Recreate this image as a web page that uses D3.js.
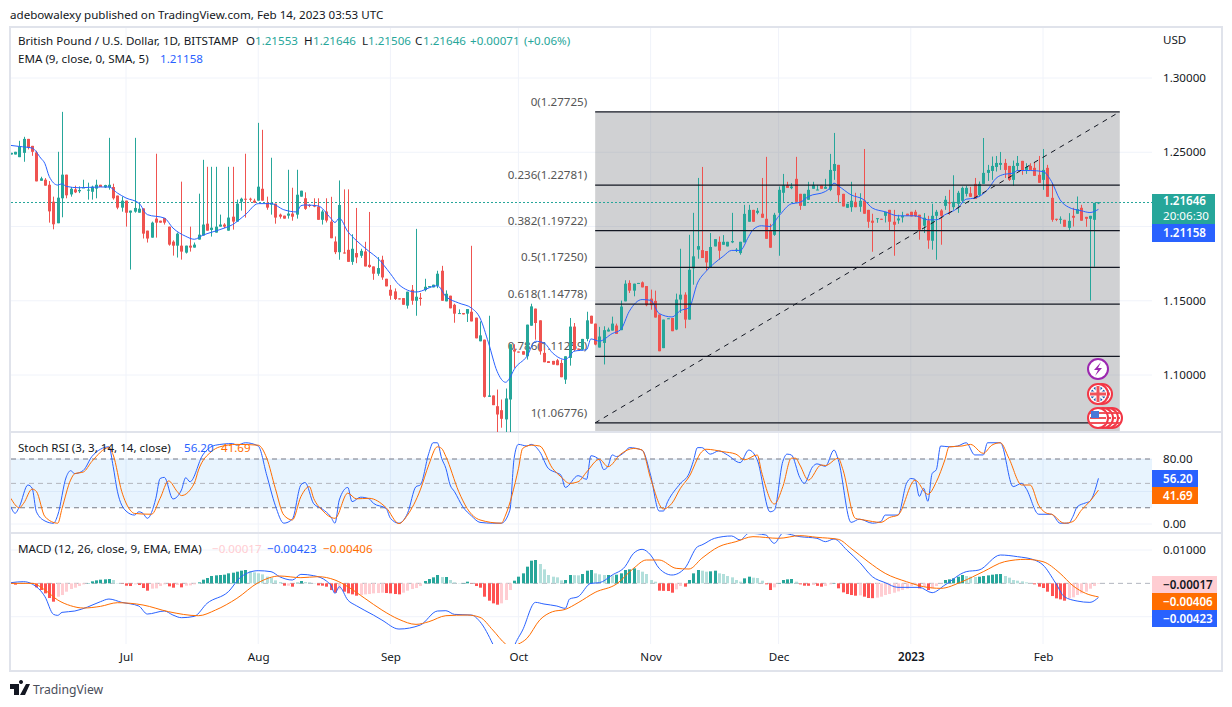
<!DOCTYPE html>
<html>
<head>
<meta charset="utf-8">
<script src="https://cdn.jsdelivr.net/npm/d3@7"></script>
<style>
  html, body { margin: 0; padding: 0; background: #fff; }
  text { font-family: "Noto Sans", sans-serif; }
</style>
</head>
<body>
<div id="chart"></div>
<script>
// bar 1 is 2022-06-04, one candle per calendar day
var firstDay = new Date(Date.UTC(2022, 5, 4));

var opens = [
  1.2485,1.2485,1.2467,1.2496,1.2590,1.2543,1.2499,1.2308,1.2315,1.2281,
  1.2167,1.2022,1.2190,1.2349,1.2216,1.2250,1.2237,1.2259,1.2243,1.2234,
  1.2255,1.2281,1.2263,1.2263,1.2266,1.2208,1.2127,1.2174,1.2093,1.2100,
  1.2093,1.2122,1.1972,1.1925,1.2053,1.2039,1.2057,1.1999,1.1898,1.1871,
  1.1871,1.1824,1.1871,1.1858,1.1912,1.1939,1.2019,1.1977,1.1959,1.1999,
  1.2013,1.1972,1.2066,1.2033,1.2167,1.2187,1.2187,1.2174,1.2174,1.2254,
  1.2160,1.2147,1.2154,1.2080,1.2073,1.2073,1.2087,1.2080,1.2201,1.2190,
  1.2145,1.2145,1.2134,1.2045,1.2101,1.2033,1.1899,1.1827,1.1825,1.1843,
  1.1762,1.1821,1.1803,1.1832,1.1742,1.1731,1.1682,1.1776,1.1648,1.1574,
  1.1563,1.1516,1.1518,1.1467,1.1574,1.1500,1.1520,1.1572,1.1590,1.1590,
  1.1601,1.1702,1.1496,1.1534,1.1473,1.1413,1.1417,1.1413,1.1426,1.1386,
  1.1227,1.1238,1.0853,1.0862,1.0790,1.0763,1.0701,1.0835,1.1171,1.1158,
  1.1160,1.1126,1.1332,1.1447,1.1368,1.1149,1.1093,1.1095,1.1099,1.1081,
  1.0969,1.1115,1.1326,1.1178,1.1171,1.1243,1.1399,1.1346,1.1185,1.1216,
  1.1293,1.1299,1.1333,1.1302,1.1496,1.1620,1.1568,1.1617,1.1624,1.1599,
  1.1514,1.1499,1.1407,1.1181,1.1378,1.1384,1.1306,1.1508,1.1541,1.1373,
  1.1718,1.1844,1.1841,1.1835,1.1727,1.1866,1.1897,1.1877,1.1866,1.1893,
  1.1835,1.1821,1.1893,1.2032,1.2112,1.2092,1.2086,1.2052,1.1971,1.1944,
  1.2092,1.2227,1.2278,1.2258,1.2321,1.2220,1.2139,1.2180,1.2254,1.2245,
  1.2280,1.2254,1.2247,1.2374,1.2415,1.2220,1.2126,1.2130,1.2166,1.2133,
  1.2175,1.2112,1.2039,1.2052,1.2052,1.2072,1.2112,1.2032,1.2041,1.2061,
  1.2086,1.2099,1.2099,1.2079,1.2005,1.2041,1.1904,1.2072,1.2108,1.2139,
  1.2162,1.2130,1.2153,1.2173,1.2220,1.2224,1.2287,1.2211,1.2287,1.2361,
  1.2374,1.2401,1.2415,1.2428,1.2408,1.2314,1.2408,1.2442,1.2381,1.2408,
  1.2395,1.2348,1.2314,1.2395,1.2193,1.2052,1.2045,1.2045,1.1991,1.2072,
  1.2086,1.2126,1.2065,1.2052,1.2045,1.21553
];
var highs = [
  1.2496,1.2503,1.2577,1.2604,1.2590,1.2543,1.2510,1.2335,1.2326,1.2306,
  1.2201,1.2503,1.2772,1.2349,1.2266,1.2275,1.2270,1.2315,1.2295,1.2275,
  1.2315,1.2281,1.2281,1.2597,1.2288,1.2208,1.2201,1.2174,1.2107,1.2597,
  1.2160,1.2122,1.1972,1.2033,1.2490,1.2039,1.2057,1.1999,1.1907,1.1959,
  1.2302,1.1871,1.1999,1.1892,1.2221,1.2449,1.2402,1.2402,1.2402,1.2080,
  1.2022,1.2402,1.2402,1.2181,1.2194,1.2490,1.2194,1.2187,1.2698,1.2651,
  1.2201,1.2463,1.2154,1.2087,1.2073,1.2382,1.2261,1.2382,1.2241,1.2230,
  1.2150,1.2190,1.2190,1.2112,1.2190,1.2200,1.1933,1.2310,1.2250,1.2250,
  1.1948,1.2125,1.1850,1.1897,1.2098,1.1731,1.1794,1.1803,1.1648,1.1606,
  1.1583,1.1516,1.1518,1.1561,1.1606,1.1984,1.1552,1.1648,1.1599,1.1608,
  1.1702,1.1735,1.1570,1.1534,1.1480,1.1442,1.1417,1.1444,1.1870,1.1386,
  1.1361,1.1238,1.1399,1.0862,1.0902,1.0835,1.0909,1.1207,1.1207,1.1158,
  1.1160,1.1339,1.1480,1.1447,1.1368,1.1182,1.1093,1.1095,1.1108,1.1104,
  1.1126,1.1384,1.1350,1.1178,1.1243,1.1426,1.1399,1.1346,1.1324,1.1328,
  1.1319,1.1393,1.1346,1.1501,1.1638,1.1638,1.1615,1.1620,1.1630,1.1599,
  1.1575,1.1568,1.1407,1.1373,1.1382,1.1384,1.1548,1.1850,1.1557,1.1944,
  1.2092,1.2327,1.2401,1.1835,1.1956,1.1915,1.1933,1.1942,1.1897,1.2092,
  1.1855,1.1897,1.2146,1.2146,1.2112,1.2125,1.2327,1.2469,1.2018,1.2092,
  1.2270,1.2354,1.2301,1.2292,1.2469,1.2220,1.2220,1.2301,1.2301,1.2280,
  1.2280,1.2321,1.2489,1.2630,1.2415,1.2220,1.2153,1.2301,1.2227,1.2224,
  1.2522,1.2112,1.2086,1.2056,1.2052,1.2099,1.2112,1.2112,1.2079,1.2099,
  1.2086,1.2099,1.2112,1.2079,1.2090,1.2072,1.2153,1.2112,1.2117,1.2206,
  1.2247,1.2345,1.2240,1.2269,1.2274,1.2267,1.2327,1.2303,1.2596,1.2415,
  1.2471,1.2475,1.2502,1.2455,1.2408,1.2444,1.2475,1.2442,1.2426,1.2426,
  1.2435,1.2475,1.2522,1.2415,1.2287,1.2052,1.2068,1.2045,1.2090,1.2126,
  1.2202,1.2146,1.2065,1.2072,1.2159,1.21646
];
var lows = [
  1.2485,1.2485,1.2467,1.2436,1.2519,1.2476,1.2304,1.2308,1.2275,1.2026,
  1.1981,1.2022,1.2062,1.2190,1.2201,1.2225,1.2225,1.2259,1.2181,1.2181,
  1.2190,1.2266,1.2259,1.2248,1.2181,1.2116,1.2100,1.1999,1.1710,1.2093,
  1.2093,1.1919,1.1892,1.1925,1.1925,1.2026,1.2013,1.1871,1.1804,1.1791,
  1.1777,1.1818,1.1831,1.1858,1.1912,1.1939,1.1972,1.1932,1.1959,1.1999,
  1.1990,1.1972,1.1979,1.2033,1.2107,1.2060,1.2167,1.2160,1.2174,1.2174,
  1.2113,1.2080,1.2019,1.2053,1.2053,1.2053,1.2039,1.2053,1.2201,1.2112,
  1.2130,1.2130,1.2045,1.2013,1.2027,1.1921,1.1814,1.1776,1.1818,1.1762,
  1.1742,1.1753,1.1789,1.1731,1.1722,1.1641,1.1668,1.1641,1.1597,1.1507,
  1.1505,1.1509,1.1473,1.1447,1.1473,1.1399,1.1467,1.1563,1.1590,1.1590,
  1.1585,1.1500,1.1496,1.1449,1.1352,1.1413,1.1408,1.1357,1.1361,1.1247,
  1.1227,1.0848,1.0853,1.0797,1.0600,1.0645,1.0500,1.0500,1.1048,1.1151,
  1.1137,1.1104,1.1332,1.1238,1.1137,1.1086,1.1081,1.1070,1.1066,1.0985,
  1.0940,1.1063,1.1160,1.1171,1.1166,1.1227,1.1346,1.1200,1.1185,1.1071,
  1.1293,1.1299,1.1277,1.1302,1.1496,1.1552,1.1530,1.1617,1.1590,1.1463,
  1.1440,1.1387,1.1160,1.1181,1.1378,1.1295,1.1302,1.1418,1.1315,1.1373,
  1.1608,1.1783,1.1788,1.1705,1.1727,1.1866,1.1776,1.1877,1.1866,1.1888,
  1.1828,1.1810,1.1893,1.2032,1.2032,1.2082,1.2059,1.1917,1.1857,1.1937,
  1.1803,1.2166,1.2260,1.2251,1.2166,1.2112,1.2139,1.2180,1.2254,1.2245,
  1.2254,1.2254,1.2238,1.2314,1.2162,1.2135,1.2126,1.2099,1.2130,1.2099,
  1.2086,1.1991,1.1830,1.2025,1.2045,1.2027,1.1971,1.1803,1.2018,1.2027,
  1.2072,1.2068,1.2064,1.1911,1.1956,1.1850,1.1844,1.1776,1.1877,1.2112,
  1.2079,1.2112,1.2092,1.2162,1.2202,1.2200,1.2186,1.2202,1.2287,1.2307,
  1.2314,1.2370,1.2381,1.2327,1.2307,1.2274,1.2377,1.2348,1.2354,1.2381,
  1.2341,1.2294,1.2247,1.2200,1.2032,1.2036,1.2018,1.1998,1.1971,1.2000,
  1.2086,1.2039,1.1998,1.1501,1.1729,1.21506
];
var closes = [
  1.2496,1.2503,1.2539,1.2590,1.2530,1.2503,1.2304,1.2324,1.2275,1.2102,
  1.2015,1.2194,1.2349,1.2210,1.2254,1.2230,1.2246,1.2263,1.2248,1.2268,
  1.2281,1.2266,1.2279,1.2281,1.2190,1.2127,1.2174,1.2093,1.2107,1.2125,
  1.2120,1.1952,1.1919,1.2026,1.2026,1.2026,1.2026,1.1878,1.1871,1.1952,
  1.1831,1.1871,1.1858,1.1878,1.1945,1.2013,1.1972,1.1992,1.1999,1.2013,
  1.1999,1.2060,1.2033,1.2154,1.2187,1.2181,1.2181,1.2160,1.2268,1.2174,
  1.2127,1.2160,1.2060,1.2066,1.2053,1.2087,1.2066,1.2214,1.2241,1.2119,
  1.2139,1.2134,1.2045,1.2101,1.2040,1.1921,1.1827,1.2145,1.1818,1.1762,
  1.1850,1.1792,1.1836,1.1731,1.1727,1.1682,1.1720,1.1657,1.1597,1.1534,
  1.1512,1.1509,1.1473,1.1561,1.1500,1.1527,1.1512,1.1594,1.1599,1.1608,
  1.1682,1.1500,1.1547,1.1449,1.1413,1.1417,1.1408,1.1444,1.1361,1.1247,
  1.1267,1.0853,1.0862,1.0797,1.0734,1.0705,1.0842,1.1207,1.1158,1.1151,
  1.1137,1.1339,1.1462,1.1350,1.1160,1.1086,1.1081,1.1070,1.1066,1.0985,
  1.1126,1.1326,1.1171,1.1171,1.1243,1.1368,1.1346,1.1205,1.1259,1.1302,
  1.1306,1.1346,1.1277,1.1461,1.1615,1.1568,1.1615,1.1620,1.1590,1.1470,
  1.1470,1.1387,1.1160,1.1373,1.1382,1.1295,1.1508,1.1541,1.1373,1.1709,
  1.1799,1.1868,1.1788,1.1758,1.1862,1.1915,1.1837,1.1897,1.1897,1.1902,
  1.1844,1.1897,1.2085,1.2112,1.2032,1.2106,1.2059,1.1917,1.1857,1.2079,
  1.2247,1.2278,1.2260,1.2269,1.2166,1.2139,1.2220,1.2247,1.2280,1.2249,
  1.2254,1.2267,1.2381,1.2421,1.2211,1.2135,1.2153,1.2173,1.2130,1.2173,
  1.2086,1.2032,1.2025,1.2056,1.2045,1.2099,1.2032,1.2012,1.2054,1.2072,
  1.2072,1.2068,1.2068,1.1978,1.2059,1.1906,1.2072,1.2099,1.2072,1.2180,
  1.2155,1.2166,1.2227,1.2260,1.2260,1.2200,1.2186,1.2287,1.2361,1.2381,
  1.2408,1.2428,1.2428,1.2381,1.2314,1.2408,1.2428,1.2374,1.2401,1.2381,
  1.2341,1.2294,1.2381,1.2200,1.2045,1.2045,1.2052,1.1998,1.2038,1.2059,
  1.2117,1.2039,1.2052,1.2072,1.2159,1.21646
];

// [bar number, value]
var emaLine = [[1,1.2546],[3,1.2539],[6,1.2528],[8,1.2461],[9,1.2423],[10,1.2337],[12,1.2279],[13,1.2288],[14,1.2270],
  [17,1.2261],[22,1.2266],[24,1.2266],[26,1.2225],[28,1.2192],[31,1.2158],[33,1.2080],[37,1.2057],[39,1.1990],[42,1.1934],
  [44,1.1914],[46,1.1941],[50,1.1979],[53,1.2013],[56,1.2080],[59,1.2154],[62,1.2154],[65,1.2113],[68,1.2098],[69,1.2140],
  [70,1.2145],[73,1.2139],[76,1.2056],[77,1.2027],[78,1.2056],[80,1.1966],[82,1.1906],[85,1.1832],[87,1.1787],[90,1.1682],
  [92,1.1608],[96,1.1559],[101,1.1601],[103,1.1529],[106,1.1485],[109,1.1451],[111,1.1384],[113,1.1216],[115,1.1025],
  [117,1.0951],[118,1.0981],[119,1.1037],[122,1.1126],[124,1.1227],[126,1.1216],[128,1.1149],[131,1.1104],[132,1.1126],
  [133,1.1160],[136,1.1171],[137,1.1243],[139,1.1228],[142,1.1279],[144,1.1306],[146,1.1429],[149,1.1508],[151,1.1503],
  [153,1.1414],[156,1.1391],[158,1.1434],[160,1.1452],[162,1.1620],[164,1.1698],[166,1.1754],[168,1.1799],[170,1.1839],
  [172,1.1839],[174,1.1933],[175,1.1978],[177,1.2005],[179,1.2000],[181,1.2068],[184,1.2153],[186,1.2162],[188,1.2202],
  [192,1.2236],[193,1.2258],[194,1.2292],[195,1.2274],[198,1.2213],[201,1.2180],[203,1.2124],[206,1.2099],[209,1.2072],
  [213,1.2072],[216,1.2045],[218,1.2045],[220,1.2079],[223,1.2124],[225,1.2184],[227,1.2191],[230,1.2247],[232,1.2325],
  [234,1.2352],[236,1.2359],[237,1.2377],[240,1.2377],[243,1.2370],[245,1.2303],[247,1.2180],[249,1.2130],[252,1.2106],
  [254,1.2094],[256,1.21158]];

var fibLevels = [0, 0.236, 0.382, 0.5, 0.618, 0.786, 1];
var fibPrices = [1.27725, 1.22781, 1.19722, 1.1725, 1.14778, 1.11259, 1.06776];
var fibBars = [138, 261];   // first and last bar of the fib drawing

var priceGrid = [1.30, 1.25, 1.20, 1.15, 1.10];
var priceTicks = [1.30, 1.25, 1.15, 1.10];   // 1.20 sits behind the value boxes
var stochGrid = [0, 40, 80];
var stochTicks = [0, 80];
var macdGrid = [0.01, -0.01];
var macdTicks = [0.01];
var monthTicks = [new Date(Date.UTC(2022,6,1)), new Date(Date.UTC(2022,7,1)), new Date(Date.UTC(2022,8,1)),
  new Date(Date.UTC(2022,9,1)), new Date(Date.UTC(2022,10,1)), new Date(Date.UTC(2022,11,1)),
  new Date(Date.UTC(2023,0,1)), new Date(Date.UTC(2023,1,1))];
var monthLabels = ["Jul","Aug","Sep","Oct","Nov","Dec","2023","Feb"];

var stochK = [[1,21.4],[2,13.2],[3,21.4],[5,48],[6,44],[7,15],[9,3.7],[11,0.9],[12,11],[14,58],[15,65.6],[16,62],[18,66],
  [20,83],[22,92],[24,95],[25,70.5],[26,39.8],[28,16],[30,11],[31,15],[32,13],[33,7],[35,31.6],[36,56],[37,57.4],[39,30.8],
  [41,41.8],[42,57],[43,52],[46,85],[49,97],[53,99],[54,97],[56,100],[59,96],[61,60],[63,23],[65,1],[67,6],[69,48],[70,51],
  [72,25],[74,18.5],[76,9],[77,1],[78,29.5],[80,45],[81,27.5],[83,33],[85,31],[86,25.5],[89,19],[90,7],[92,1],[94,13],
  [96,46],[97,48],[99,87],[100,100],[101,100],[102,81],[103,68.5],[104,48],[105,40],[107,21],[109,10],[111,2],[114,1],
  [116,1],[118,17],[119,81],[120,98],[122,96],[123,98],[125,89],[127,68.5],[129,63],[130,60],[131,45],[134,59.5],[136,55],
  [137,84],[139,79],[140,67],[141,71],[142,85],[143,83],[145,89],[146,94],[149,91],[151,60],[153,16],[154,16],[155,27.5],
  [158,50],[160,62],[161,77],[162,94],[163,94],[165,86],[167,90],[169,85],[172,75.5],[174,91],[176,79],[179,15],[180,17],
  [182,77],[183,86],[184,85],[186,57],[187,50],[189,70.5],[190,74],[192,71],[194,91],[195,79],[198,2],[200,6],[203,1],
  [205,3],[206,11],[209,11],[211,50],[212,56],[213,55],[214,34],[215,44],[216,28],[217,62],[218,67],[219,96],[221,95],
  [223,96],[225,100],[227,85],[229,85],[230,100],[233,100],[236,46],[238,50],[239,44],[242,12],[245,12],[247,1],[249,1],
  [250,9],[251,21],[253,26],[254,28],[256,56.2]];
var stochD = [[1,31.6],[3,20],[4,25.5],[6,43],[7,40],[9,9],[12,1],[13,19],[15,54],[16,62],[18,64],[20,77],[24,94],[25,85],
  [27,40],[29,17],[30,13],[34,12],[36,31.6],[38,53],[40,40],[41,35],[44,50],[45,66.5],[48,89],[50,95],[54,98],[59,97],
  [61,81],[63,44],[65,11],[67,5],[69,33.6],[71,46],[72,31.6],[74,17],[77,7],[80,38],[82,31],[85,31.6],[89,20],[92,0.5],
  [94,11],[97,42],[99,73],[101,95],[102,93],[103,83],[106,40],[108,19],[111,5],[116,1],[117,11],[120,68],[121,93],[123,97],
  [125,96],[128,68.5],[130,58],[132,50],[134,52],[136,64],[139,79.6],[141,70.5],[144,86],[147,93],[149,91],[151,56],
  [154,18.5],[156,25.5],[158,44],[160,58],[163,89],[164,92],[168,89],[171,86],[173,79],[176,85],[177,64.4],[180,24.6],
  [182,46],[184,81],[185,81],[186,72.6],[188,54],[191,72.6],[192,72],[195,81],[196,68.5],[199,7],[201,5],[205,2],[207,8],
  [209,11],[213,54],[216,36.5],[218,52],[220,79],[221,95],[224,96],[226,98],[229,87],[231,97],[233,100],[235,81],[238,48],
  [240,48],[242,23],[244,13],[245,12],[248,1],[250,3],[252,17],[254,28],[256,41.69]];

// histogram in 1/10000 of a dollar, one per bar
var macdHist = [
  -1,-4,-2,-1,0,-2,-12,-20,-30,-44,
  -55,-40,-35,-25,-17,-13,-8,-3,1,6,
  9,11,12,13,10,1,-1,-7,-8,-3,
  -5,-14,-22,-16,-15,-8,-3,-9,-13,-5,
  -12,-7,-6,-3,3,11,16,22,24,25,
  26,30,32,35,38,40,37,33,30,27,
  20,17,9,4,-7,-7,-10,2,7,4,
  3,1,-6,-7,-10,-20,-28,-18,-25,-30,
  -33,-37,-35,-33,-32,-30,-29,-28,-29,-30,
  -32,-33,-28,-22,-17,-14,-8,7,13,18,
  25,19,19,10,3,1,1,5,-1,-8,
  -13,-40,-52,-60,-64,-60,-50,-20,8,20,
  30,50,68,70,58,42,25,20,18,9,
  10,25,24.5,24,28,38,40,30,27,25,
  25,24,26,30,40,42,45,40,35,28,
  10,5,-22,-22.5,-23,-28,-18,-8,-10,10,
  30,40,38,35,36,38,30,28,22,18,
  10,5,15,20,17,16,8,-3,-20,-12,
  1,10,12,13,5,-3,-7,-7.3,-5,-7.5,
  -10,-8,-3,1,-15,-27,-32,-35,-37,-36,
  -40,-44,-44.5,-43,-40,-35,-32,-28,-24,-20,
  -16,-8,-5,-15,-10,-20,-15,-8,-1,10,
  12,15,20,25,22,20,19,20,22,24,
  26,27.5,28,22,17,10,8,6,3,1,
  -3,-10,-14,-25,-38,-45,-48,-52,-45,-42,
  -35,-30,-25,-16,-8,-1.7
];
var macdLine = [[1,.0002],[4,.0005],[6,-.0002],[9,-.0040],[11,-.0093],[12,-.0096],[13,-.0087],[16,-.0083],[19,-.0071],
  [22,-.0055],[24,-.0047],[27,-.0057],[31,-.0068],[33,-.0092],[37,-.0083],[39,-.0095],[41,-.0103],[44,-.0099],[47,-.0060],
  [52,-.0025],[55,.0020],[59,.0038],[62,.0035],[64,.0020],[67,.0010],[69,.0027],[72,.0023],[75,.0007],[76,-.0005],[77,-.0030],
  [78,-.0010],[80,-.0050],[82,-.0067],[86,-.0095],[88,-.0110],[92,-.0137],[97,-.0125],[101,-.0083],[103,-.0082],[105,-.0093],
  [109,-.0095],[111,-.0115],[114,-.0182],[116,-.0240],[118,-.0230],[119,-.0190],[121,-.0140],[124,-.0057],[126,-.0062],
  [129,-.0068],[131,-.0075],[132,-.0047],[134,-.0040],[137,0],[139,.0002],[142,.0025],[145,.0050],[147,.0090],[149,.0102],
  [151,.0085],[153,.0045],[156,.0025],[159,.0045],[162,.0110],[163,.0115],[166,.0135],[170,.0142],[172,.0130],[174,.0150],
  [178,.0145],[180,.0120],[182,.0150],[186,.0140],[190,.0135],[192,.0125],[194,.0133],[197,.0100],[200,.0063],[203,.0020],
  [206,.0002],[209,-.0012],[214,-.0012],[217,-.0028],[220,-.0005],[225,.0035],[228,.0040],[233,.0085],[237,.0080],[241,.0070],
  [243,.0055],[246,0],[248,-.0040],[251,-.0053],[254,-.0057],[256,-.00423]];
var macdSignal = [[1,0],[6,0],[9,-.0020],[12,-.0050],[15,-.0067],[18,-.0074],[22,-.0069],[26,-.0058],[32,-.0065],[38,-.0085],
  [45,-.0097],[49,-.0080],[54,-.0045],[59,.0002],[64,.0022],[69,.0017],[73,.0020],[77,.0010],[80,-.0010],[84,-.0045],
  [88,-.0080],[92,-.0108],[96,-.0123],[99,-.0115],[103,-.0097],[108,-.0095],[111,-.0102],[114,-.0140],[117,-.0182],[118,-.0190],
  [120,-.0182],[122,-.0165],[125,-.0110],[128,-.0085],[131,-.0078],[134,-.0058],[138,-.0027],[143,-.0002],[147,.0045],[150,.0070],
  [153,.0070],[157,.0045],[160,.0043],[163,.0075],[167,.0110],[171,.0125],[175,.0140],[181,.0135],[186,.0143],[190,.0138],
  [195,.0132],[198,.0105],[202,.0065],[206,.0030],[211,.0005],[215,-.0010],[219,-.0015],[224,.0005],[229,.0035],[234,.0065],
  [239,.0072],[243,.0065],[247,.0030],[250,-.0007],[253,-.0030],[256,-.00406]];

var width = 1232, height = 707;
var green = "#26a69a", red = "#ef5350", blue = "#2962ff", orange = "#ff6d00";
var gridColor = "#f0f3fa", borderColor = "#e0e3eb", textColor = "#131722";
var fontSize = 11.6;

var svg = d3.select("#chart").append("svg")
  .attr("width", width).attr("height", height)
  .style("display", "block");

function barDate(n) { return d3.utcDay.offset(firstDay, n - 1); }

var x = d3.scaleUtc()
  .domain([monthTicks[0], monthTicks[7]])
  .range([126, 1043]);
var yPrice = d3.scaleLinear().domain([1.30, 1.10]).range([78, 375]);
var yStoch = d3.scaleLinear().domain([0, 80]).range([524, 459]);
var yMacd = d3.scaleLinear().domain([0.01, -0.01]).range([550, 616.7]);

var left = 11, right = 1152;
var panes = { price: [28, 432], stoch: [433, 533], macd: [534, 644] };

function addClip(id, box) {
  svg.append("clipPath").attr("id", id).append("rect")
    .attr("x", left).attr("y", box[0]).attr("width", right - left).attr("height", box[1] - box[0]);
}
addClip("clipPrice", panes.price);
addClip("clipStoch", panes.stoch);
addClip("clipMacd", panes.macd);

// frame
svg.append("rect").attr("x", 10).attr("y", 27).attr("width", 1212).attr("height", 644)
  .attr("fill", "#fff").attr("stroke", borderColor).attr("stroke-width", 2);

// grid, vertical lines run through all panes
svg.selectAll(".vgrid").data(monthTicks).enter().append("line")
  .attr("x1", function(d) { return x(d); }).attr("x2", function(d) { return x(d); })
  .attr("y1", 28).attr("y2", 644)
  .attr("stroke", gridColor);
function hgrid(vals, y) {
  svg.append("g").selectAll("line").data(vals).enter().append("line")
    .attr("x1", left).attr("x2", right)
    .attr("y1", function(d) { return y(d); }).attr("y2", function(d) { return y(d); })
    .attr("stroke", gridColor);
}
hgrid(priceGrid, yPrice);
hgrid(stochGrid, yStoch);
hgrid(macdGrid, yMacd);

// pane separators
[432, 533].forEach(function(y) {
  svg.append("line").attr("x1", 10).attr("x2", 1222).attr("y1", y).attr("y2", y)
    .attr("stroke", borderColor).attr("stroke-width", 2);
});

// fib background and labels go under the candles
var fibX1 = x(barDate(fibBars[0])), fibX2 = x(barDate(fibBars[1]));
svg.append("rect").attr("x", fibX1).attr("y", yPrice(fibPrices[0]))
  .attr("width", fibX2 - fibX1).attr("height", panes.price[1] - 1 - yPrice(fibPrices[0]))
  .attr("fill", "rgba(120,123,130,0.35)");
svg.append("g").selectAll("text").data(fibPrices).enter().append("text")
  .attr("x", fibX1 - 8)
  .attr("y", function(d) { return yPrice(d) - 6; })
  .attr("text-anchor", "end")
  .attr("font-size", fontSize).attr("fill", "#555")
  .text(function(d, i) { return fibLevels[i] + "(" + d.toFixed(5) + ")"; });

// last price dotted line
var lastY = Math.round(yPrice(closes[255])) + 0.5;
svg.append("line").attr("x1", left).attr("x2", right)
  .attr("y1", lastY).attr("y2", lastY)
  .attr("stroke", green).attr("stroke-dasharray", "2 2");

// candles
var candleGroup = svg.append("g").attr("clip-path", "url(#clipPrice)");
var candles = candleGroup.selectAll("g").data(d3.range(opens.length)).enter().append("g");
function candleColor(i) { return closes[i] >= opens[i] ? green : red; }
candles.append("line")
  .attr("x1", function(i) { return Math.round(x(barDate(i + 1))) + 0.5; })
  .attr("x2", function(i) { return Math.round(x(barDate(i + 1))) + 0.5; })
  .attr("y1", function(i) { return yPrice(highs[i]); })
  .attr("y2", function(i) { return yPrice(lows[i]); })
  .attr("stroke", candleColor);
candles.append("rect")
  .attr("x", function(i) { return Math.round(x(barDate(i + 1))) - 1; })
  .attr("width", 3)
  .attr("y", function(i) { return yPrice(Math.max(opens[i], closes[i])); })
  .attr("height", function(i) { return Math.max(1, Math.abs(yPrice(opens[i]) - yPrice(closes[i]))); })
  .attr("fill", candleColor);

// sampled lines
function drawLine(data, y, color, clipId) {
  var line = d3.line()
    .x(function(d) { return x(barDate(d[0])); })
    .y(function(d) { return y(d[1]); })
    .curve(d3.curveMonotoneX);
  svg.append("path").datum(data)
    .attr("clip-path", "url(#" + clipId + ")")
    .attr("d", line).attr("fill", "none")
    .attr("stroke", color).attr("stroke-width", 1);
}
drawLine(emaLine, yPrice, blue, "clipPrice");

// fib lines
var fibGroup = svg.append("g").attr("clip-path", "url(#clipPrice)");
fibGroup.selectAll("line").data(fibPrices).enter().append("line")
  .attr("x1", fibX1).attr("x2", fibX2)
  .attr("y1", function(d) { return yPrice(d); }).attr("y2", function(d) { return yPrice(d); })
  .attr("stroke", "#131722").attr("stroke-width", 1.3);
fibGroup.append("line")
  .attr("x1", fibX1).attr("x2", fibX2)
  .attr("y1", yPrice(fibPrices[6])).attr("y2", yPrice(fibPrices[0]))
  .attr("stroke", "#131722").attr("stroke-dasharray", "5 5");

// event markers above the fib box
function flagMarker(cx, cy) {
  var g = svg.append("g");
  g.append("circle").attr("cx", cx).attr("cy", cy).attr("r", 10).attr("fill", "#fff").attr("stroke", "#f23645").attr("stroke-width", 2);
  return g;
}
function ukMarker(cx, cy) {
  var g = flagMarker(cx, cy);
  g.append("circle").attr("cx", cx).attr("cy", cy).attr("r", 7.5).attr("fill", "#1a56a8");
  [45, -45].forEach(function(a) {
    g.append("rect").attr("x", cx - 8).attr("y", cy - 1).attr("width", 16).attr("height", 2).attr("fill", "#fff")
      .attr("transform", "rotate(" + a + " " + cx + " " + cy + ")");
  });
  g.append("rect").attr("x", cx - 8).attr("y", cy - 2.5).attr("width", 16).attr("height", 5).attr("fill", "#fff");
  g.append("rect").attr("x", cx - 2.5).attr("y", cy - 8).attr("width", 5).attr("height", 16).attr("fill", "#fff");
  g.append("rect").attr("x", cx - 8).attr("y", cy - 1.5).attr("width", 16).attr("height", 3).attr("fill", "#f0525a");
  g.append("rect").attr("x", cx - 1.5).attr("y", cy - 8).attr("width", 3).attr("height", 16).attr("fill", "#f0525a");
}
function usMarker(cx, cy) {
  var g = flagMarker(cx, cy);
  [-5, 0, 5].forEach(function(d) {
    g.append("rect").attr("x", cx - 8).attr("y", cy + d - 1).attr("width", 16).attr("height", 2).attr("fill", "#f0525a");
  });
  g.append("rect").attr("x", cx - 7).attr("y", cy - 7).attr("width", 8).attr("height", 7).attr("fill", "#4a78d8");
}
usMarker(1112, 418); usMarker(1108, 418); usMarker(1103, 418); usMarker(1098, 418);
ukMarker(1102, 394); ukMarker(1098, 394);
svg.append("circle").attr("cx", 1098).attr("cy", 369).attr("r", 10).attr("fill", "#fff")
  .attr("stroke", "#9c27b0").attr("stroke-width", 2);
svg.append("path").attr("d", "M1101 362 L1094 370 L1098 370 L1095 376 L1102 368 L1098 368 Z").attr("fill", "#9c27b0");

// stoch pane
svg.append("rect").attr("x", left).attr("width", right - left)
  .attr("y", yStoch(80)).attr("height", yStoch(20) - yStoch(80))
  .attr("fill", "rgba(33,150,243,0.1)");
[[80, "#787b86"], [50, "#b2b5be"], [20, "#787b86"]].forEach(function(d) {
  svg.append("line").attr("x1", left).attr("x2", right)
    .attr("y1", yStoch(d[0])).attr("y2", yStoch(d[0]))
    .attr("stroke", d[1]).attr("stroke-dasharray", "5 4");
});
drawLine(stochK, yStoch, blue, "clipStoch");
drawLine(stochD, yStoch, orange, "clipStoch");

// macd pane
svg.append("line").attr("x1", left).attr("x2", right)
  .attr("y1", yMacd(0)).attr("y2", yMacd(0))
  .attr("stroke", "#b2b5be").attr("stroke-dasharray", "5 4");
function histColor(d, i) {
  var prev = i > 0 ? macdHist[i - 1] : 0;
  if (d >= 0) return d >= prev ? "#26a69a" : "#b2dfdb";
  return d < prev ? "#ff5252" : "#ffcdd2";
}
svg.append("g").attr("clip-path", "url(#clipMacd)").selectAll("rect").data(macdHist).enter().append("rect")
  .attr("x", function(d, i) { return Math.round(x(barDate(i + 1))) - 1; })
  .attr("width", 3)
  .attr("y", function(d) { return Math.min(yMacd(0), yMacd(d / 10000)); })
  .attr("height", function(d) { return Math.abs(yMacd(d / 10000) - yMacd(0)); })
  .attr("fill", histColor);
drawLine(macdLine, yMacd, blue, "clipMacd");
drawLine(macdSignal, yMacd, orange, "clipMacd");

// axes
function rightAxis(scale, ticks, digits) {
  var g = svg.append("g").attr("transform", "translate(" + right + ",0)")
    .call(d3.axisRight(scale).tickValues(ticks).tickSize(0).tickPadding(11)
      .tickFormat(function(d) { return d.toFixed(digits); }));
  g.select(".domain").remove();
  g.selectAll("text").attr("font-size", fontSize).attr("font-family", null).attr("fill", textColor);
}
rightAxis(yPrice, priceTicks, 5);
rightAxis(yStoch, stochTicks, 2);
rightAxis(yMacd, macdTicks, 5);

var timeAxis = svg.append("g").attr("transform", "translate(0,653)")
  .call(d3.axisBottom(x).tickValues(monthTicks).tickSize(0).tickPadding(0)
    .tickFormat(function(d, i) { return monthLabels[i]; }));
timeAxis.select(".domain").remove();
timeAxis.selectAll("text").attr("font-size", fontSize).attr("font-family", null).attr("fill", textColor)
  .attr("font-weight", function(d, i) { return monthLabels[i] === "2023" ? 600 : 400; });

// value boxes on the right edge
function valueBox(y1, y2, boxWidth, color, label, textFill) {
  svg.append("rect").attr("x", right).attr("y", y1).attr("width", boxWidth).attr("height", y2 - y1).attr("fill", color);
  if (label) svg.append("text").attr("x", right + 11).attr("y", (y1 + y2) / 2 + 4)
    .attr("font-size", fontSize).attr("font-weight", 600).attr("fill", textFill || "#fff").text(label);
}
valueBox(194, 224, 63, green);
svg.append("text").attr("x", right + 11).attr("y", 205).attr("font-size", fontSize).attr("font-weight", 600).attr("fill", "#fff").text(closes[255].toFixed(5));
svg.append("text").attr("x", right + 11).attr("y", 220).attr("font-size", fontSize).attr("fill", "#fff").text("20:06:30");
valueBox(224, 242, 63, blue, "1.21158");
valueBox(470, 487, 46, blue, "56.20");
valueBox(487, 504, 46, orange, "41.69");
valueBox(576, 593, 65, "#ffcdd2", "\u22120.00017", "#131722");
valueBox(593, 610, 65, orange, "\u22120.00406");
valueBox(610, 627, 65, blue, "\u22120.00423");

// legends, each part sits at its own x
function legendRow(y, parts) {
  parts.forEach(function(p) {
    svg.append("text").attr("x", p[0]).attr("y", y).attr("font-size", fontSize).attr("fill", p[2]).text(p[1]);
  });
}
legendRow(45, [[18, "British Pound / U.S. Dollar, 1D, BITSTAMP", textColor],
  [246, "O", textColor], [255, "1.21553", green], [304, "H", textColor], [313, "1.21646", green],
  [362, "L", textColor], [368, "1.21506", green], [415, "C", textColor], [423, "1.21646", green],
  [470, "+0.00071", green], [524, "(+0.06%)", green]]);
legendRow(63, [[18, "EMA (9, close, 0, SMA, 5)", textColor], [160, "1.21158", blue]]);
legendRow(452, [[18, "Stoch RSI (3, 3, 14, 14, close)", textColor], [184, "56.20", blue], [221, "41.69", orange]]);
legendRow(553, [[18, "MACD (12, 26, close, 9, EMA, EMA)", textColor], [212, "\u22120.00017", "#ffcdd2"],
  [267, "\u22120.00423", blue], [323, "\u22120.00406", orange]]);

svg.append("text").attr("x", 1163).attr("y", 44).attr("font-size", fontSize).attr("fill", textColor).text("USD");
svg.append("text").attr("x", 10).attr("y", 19).attr("font-size", fontSize).attr("fill", textColor)
  .text("adebowalexy published on TradingView.com, Feb 14, 2023 03:53 UTC");

// logo
svg.append("path").attr("d", "M10 684 H19 V695 H14 V689 H10 Z M21 684 a2 2 0 1 1 0.01 0 Z M26 684 H30 L25 695 H20 Z").attr("fill", "#131722");
svg.append("text").attr("x", 33).attr("y", 694).attr("font-size", 12.2).attr("fill", "#4a4e5a").text("TradingView");
</script>
</body>
</html>
